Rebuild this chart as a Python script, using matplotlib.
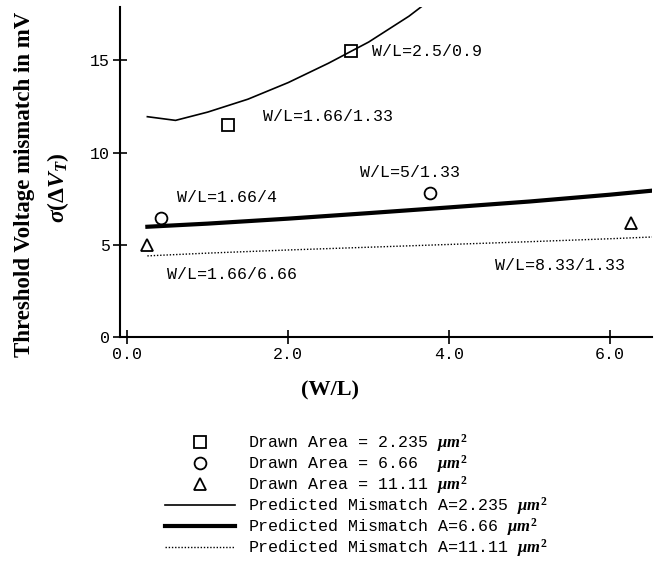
import matplotlib
matplotlib.use("Agg")
import matplotlib.pyplot as plt

plt.rcParams['mathtext.fontset'] = 'custom'
plt.rcParams['mathtext.it'] = 'Liberation Serif:italic:bold'
plt.rcParams['mathtext.rm'] = 'Liberation Serif:bold'
plt.rcParams['mathtext.bf'] = 'Liberation Serif:bold'

# ---- data ----
sq_x = [1.25, 2.78]
sq_y = [11.5, 15.5]
ci_x = [0.415, 3.76]
ci_y = [6.45, 7.8]
tr_x = [0.25, 6.26]
tr_y = [5.0, 6.2]

thin_x = [0.25, 0.6, 1.0, 1.5, 2.0, 2.5, 3.0, 3.5, 3.8]
thin_y = [11.95, 11.75, 12.2, 12.9, 13.8, 14.85, 16.0, 17.4, 18.4]
thick_x = [0.25, 1.0, 2.0, 3.0, 4.0, 5.0, 6.0, 6.55]
thick_y = [5.98, 6.15, 6.42, 6.72, 7.03, 7.35, 7.72, 7.95]
dot_x = [0.25, 1.0, 2.0, 3.0, 4.0, 5.0, 6.0, 6.55]
dot_y = [4.4, 4.55, 4.72, 4.87, 5.02, 5.17, 5.33, 5.43]

annotations = [
    ("W/L=2.5/0.9", 3.04, 15.5),
    ("W/L=1.66/1.33", 1.69, 11.96),
    ("W/L=1.66/4", 0.62, 7.55),
    ("W/L=5/1.33", 2.89, 8.9),
    ("W/L=1.66/6.66", 0.5, 3.37),
    ("W/L=8.33/1.33", 4.57, 3.9),
]

x_ticks = [0, 2, 4, 6]
x_ticklabels = ["0.0", "2.0", "4.0", "6.0"]
y_ticks = [0, 5, 10, 15]
y_ticklabels = ["0", "5", "10", "15"]

legend_labels = [
    r"Drawn Area = 2.235 $\mu m^2$",
    r"Drawn Area = 6.66  $\mu m^2$",
    r"Drawn Area = 11.11 $\mu m^2$",
    r"Predicted Mismatch A=2.235 $\mu m^2$",
    r"Predicted Mismatch A=6.66 $\mu m^2$",
    r"Predicted Mismatch A=11.11 $\mu m^2$",
]

W, H = 655, 563
fig = plt.figure(figsize=(W/100, H/100), dpi=100)
ax = fig.add_axes([120/W, 1-337/H, (652-120)/W, (337-7)/H])

mono = 'Liberation Mono'
serif = 'Liberation Serif'

h_thin, = ax.plot(thin_x, thin_y, color='black', lw=1.2)
h_thick, = ax.plot(thick_x, thick_y, color='black', lw=3.0)
h_dot, = ax.plot(dot_x, dot_y, color='black', lw=1.0, linestyle=(0, (1, 1.3)))
h_sq, = ax.plot(sq_x, sq_y, linestyle='none', marker='s', ms=8, mfc='none', mec='black', mew=1.3)
h_ci, = ax.plot(ci_x, ci_y, linestyle='none', marker='o', ms=8.5, mfc='none', mec='black', mew=1.3)
h_tr, = ax.plot(tr_x, tr_y, linestyle='none', marker='^', ms=8.5, mfc='none', mec='black', mew=1.3)

for txt, x, y in annotations:
    ax.text(x, y, txt, family=mono, fontsize=12, va='center', ha='left')

ax.set_xlim(-0.09, 6.52)
ax.set_ylim(0, 17.9)
for s in ['top', 'right']:
    ax.spines[s].set_visible(False)
for s in ['left', 'bottom']:
    ax.spines[s].set_linewidth(1.5)
ax.set_xticks(x_ticks)
ax.set_xticklabels(x_ticklabels, family=mono, fontsize=12)
ax.set_yticks(y_ticks)
ax.set_yticklabels(y_ticklabels, family=mono, fontsize=12)
ax.tick_params(direction='inout', length=10, width=1.2, pad=2)

fig.text(25/W, 1-184/H, "Threshold Voltage mismatch in mV", rotation=90,
         family=serif, weight='bold', fontsize=16.5, ha='center', va='center')
fig.text(58/W, 1-188/H, r"$\sigma(\Delta V_T)$", rotation=90,
         fontsize=17, ha='center', va='center')
fig.text(330/W, 1-390/H, "(W/L)", family=serif, weight='bold', fontsize=16,
         ha='center', va='center')

leg = fig.legend([h_sq, h_ci, h_tr, h_thin, h_thick, h_dot], legend_labels,
                 loc='upper left', bbox_to_anchor=(165/W, 1-432/H),
                 frameon=False, prop={'family': mono, 'size': 12},
                 handlelength=4.2, handletextpad=0.8, labelspacing=-0.05,
                 borderpad=0, borderaxespad=0)

fig.savefig("out.png", dpi=100)
